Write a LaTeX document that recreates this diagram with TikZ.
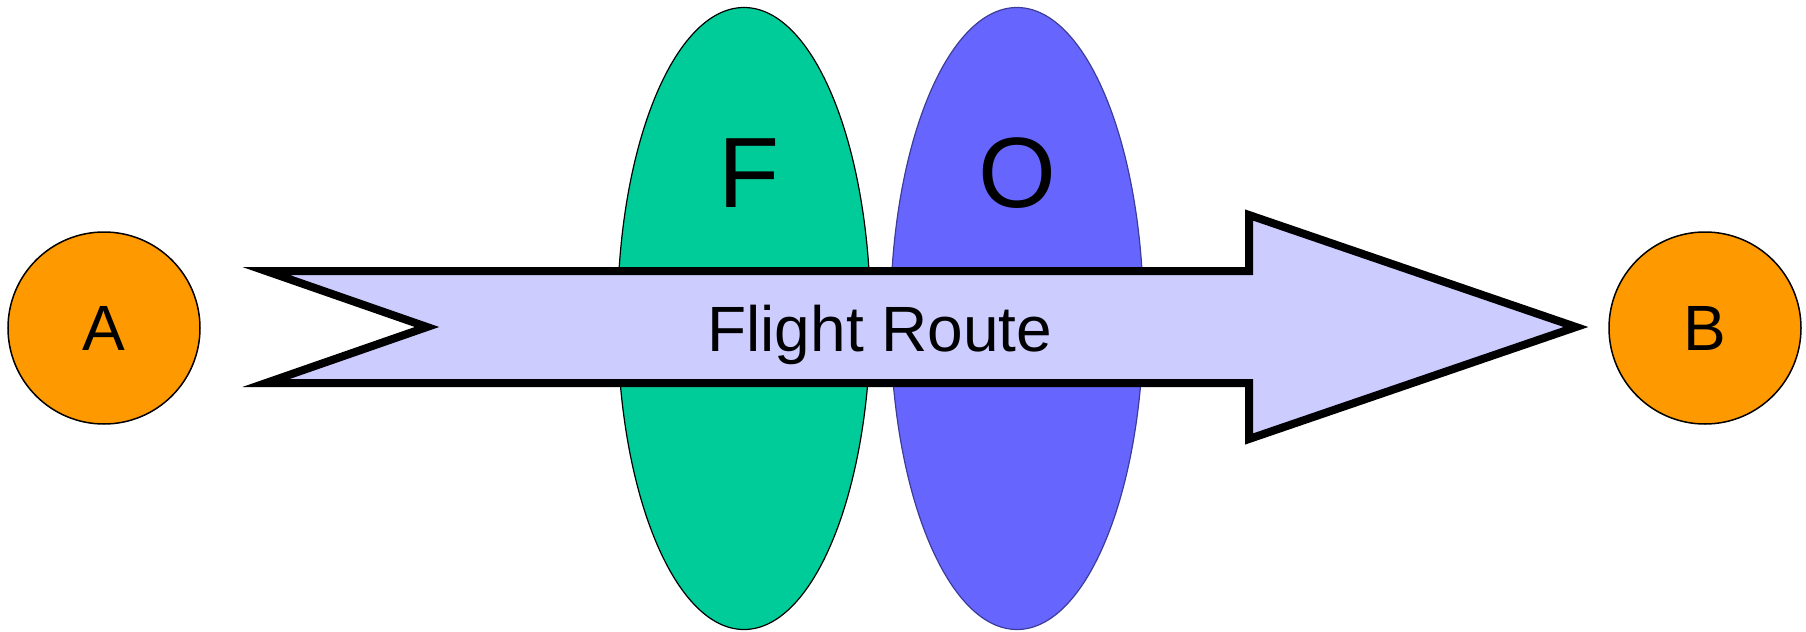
\documentclass[tikz,border=0pt]{standalone}
\usepackage{fontspec}
\setmainfont{Liberation Sans}
\usetikzlibrary{shapes.geometric}
\definecolor{cityorange}{HTML}{FF9900}
\definecolor{zonegreen}{HTML}{00CC99}
\definecolor{zoneblue}{HTML}{6666FF}
\definecolor{routefill}{HTML}{CCCCFF}
\begin{document}
\begin{tikzpicture}[x=0.5pt, y=-0.5pt,
        city/.style={circle, draw=black, line width=0.75pt, fill=cityorange, minimum size=96pt, inner sep=0pt, font=\fontsize{32}{38}\selectfont},
        zone/.style={ellipse, line width=0.6pt, minimum width=126.5pt, minimum height=311pt, inner sep=0pt},
        zoneletter/.style={anchor=base, inner sep=0pt, font=\fontsize{50}{60}\selectfont}]
    \useasboundingbox (0, 0) rectangle (1806, 632);
    \node[city] (a) at (104, 328) {A};
    \node[city] (b) at (1705, 328) {B};
    \node[zone, draw=black, fill=zonegreen] (f) at (744, 318.5) {};
    \node[zone, draw=zoneblue!60!black, fill=zoneblue] (o) at (1017, 318.5) {};
    \draw[line width=4pt, fill=routefill] (266, 271) -- (1249, 271) -- (1249, 215) -- (1576, 327) -- (1249, 439) -- (1249, 383) -- (266, 383) -- (427, 327) -- cycle;
    \node[anchor=base west, inner sep=0pt, font=\fontsize{32}{38}\selectfont] (route) at (707, 351) {Flight Route};
    \node[zoneletter] (flabel) at (749, 207) {F};
    \node[zoneletter] (olabel) at (1017, 207) {O};
\end{tikzpicture}
\end{document}
